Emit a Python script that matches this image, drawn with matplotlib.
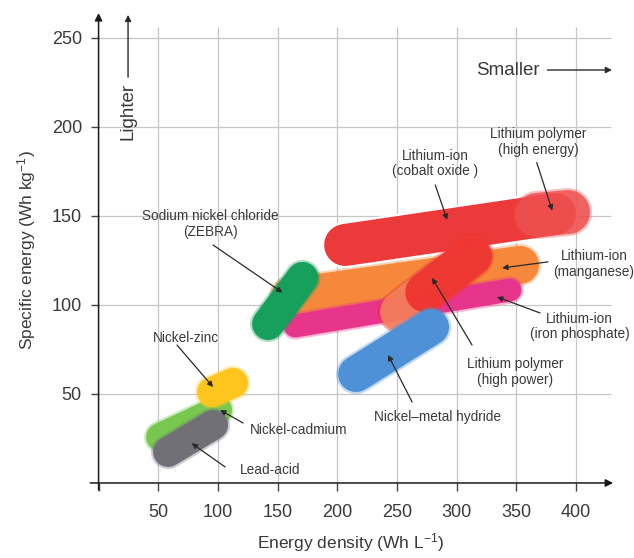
import numpy as np
import matplotlib
matplotlib.use("Agg")
import matplotlib.pyplot as plt

plt.rcParams['font.family'] = ['Liberation Sans', 'DejaVu Sans']
plt.rcParams['mathtext.fontset'] = 'custom'
plt.rcParams['mathtext.rm'] = 'Liberation Sans'
plt.rcParams['mathtext.it'] = 'Liberation Sans:italic'

# battery regions: centre-line ends (energy density Wh/L, specific energy Wh/kg)
names = ['Li-ion cobalt', 'Li polymer high energy', 'Li-ion manganese',
         'Li-ion iron phosphate', 'Li polymer high power', 'NiMH', 'ZEBRA',
         'NiCd', 'Lead-acid', 'NiZn']
x_start = [206.5, 367.3, 160.4, 164.6, 252.5, 215.7, 142.0, 51.5, 58.2, 95.1]
x_end = [382.3, 393.2, 353.0, 344.6, 312.8, 278.5, 170.8, 100.1, 95.9, 112.6]
y_start = [133.7, 150.6, 104.5, 88.2, 96.1, 61.2, 89.3, 25.8, 17.4, 51.1]
y_end = [151.1, 152.2, 122.5, 108.4, 127.5, 87.6, 115.2, 41.0, 32.6, 56.2]
widths_px = [42, 44, 38, 23, 40, 36, 32, 28, 30, 30]
colors = ['#ec3a3a', '#ef5050', '#f5883a', '#e8358c', '#ee2c2c', '#4e91d6',
          '#17a05c', '#78c850', '#707076', '#ffc41e']
orders = [3, 5, 1, 2, 4, 6, 7, 3, 5, 4]

# labels: text centre, arrow tail, arrow tip
labels = ['Sodium nickel chloride\n(ZEBRA)', 'Lithium-ion\n(cobalt oxide )',
          'Lithium polymer\n(high energy)', 'Lithium-ion\n(manganese)',
          'Lithium-ion\n(iron phosphate)', 'Lithium polymer\n(high power)',
          'Nickel\u2013metal hydride', 'Nickel-zinc', 'Nickel-cadmium',
          'Lead-acid']
text_x = [93.4, 282.0, 368.0, 415.0, 403.0, 348.8, 283.5, 73.3, 167.9, 144.0]
text_y = [145.5, 179.5, 191.6, 123.0, 88.0, 62.4, 37.0, 81.5, 29.8, 7.3]
tail_x = [95.9, 282.0, 367.0, 376.4, 369.8, 312.8, 262.6, 65.7, 121.0, 106.0]
tail_y = [133.7, 167.4, 180.0, 124.2, 95.5, 77.5, 45.5, 77.5, 33.7, 9.0]
tip_x = [154.0, 292.0, 380.0, 338.0, 333.7, 279.3, 242.5, 95.9, 101.8, 78.0]
tip_y = [107.0, 147.8, 153.0, 120.8, 104.5, 115.2, 71.9, 53.9, 41.0, 22.3]

x_ticks = [50, 100, 150, 200, 250, 300, 350, 400]
y_ticks = [50, 100, 150, 200, 250]

fig = plt.figure(figsize=(6.34, 5.58), dpi=100)
ax = fig.add_axes([0.1404, 0.1185, 0.8286, 0.8613])
ax.set_xlim(-8, 432)
ax.set_ylim(-5, 265)
for s in ax.spines.values():
    s.set_visible(False)
ax.spines['left'].set_position(('data', 0))
ax.spines['bottom'].set_position(('data', 0))

ax.vlines(x_ticks, 0, 256, color='#c6c6c6', lw=0.9, zorder=0)
ax.hlines(y_ticks, 0, 429, color='#c6c6c6', lw=0.9, zorder=0)

px2pt = 72 / 100
for i in range(len(names)):
    xs = [x_start[i], x_end[i]]
    ys = [y_start[i], y_end[i]]
    lw = widths_px[i] * px2pt
    z = orders[i]
    if names[i] == 'Li-ion cobalt':
        # white rim gives the light streak over the orange band
        ax.plot(xs, ys, lw=lw + 3, color='white', solid_capstyle='round', zorder=z)
    else:
        ax.plot(xs, ys, lw=lw + 3, color=colors[i], alpha=0.35,
                solid_capstyle='round', zorder=z)
    if names[i] == 'Li polymer high power':
        # salmon lower end fading to red
        ax.plot(xs, ys, lw=lw, color='#f47f5c', alpha=0.9,
                solid_capstyle='round', zorder=z)
        f = 0.35
        xm = x_start[i] + f * (x_end[i] - x_start[i])
        ym = y_start[i] + f * (y_end[i] - y_start[i])
        ax.plot([xm, x_end[i]], [ym, y_end[i]], lw=lw, color=colors[i],
                alpha=0.85, solid_capstyle='round', zorder=z)
    elif names[i] == 'Li polymer high energy':
        ax.plot(xs, ys, lw=lw, color=colors[i], alpha=0.85,
                solid_capstyle='round', zorder=z)
    else:
        ax.plot(xs, ys, lw=lw, color=colors[i], solid_capstyle='round', zorder=z)

for i in range(len(labels)):
    ax.annotate('', xy=(tip_x[i], tip_y[i]), xytext=(tail_x[i], tail_y[i]),
                arrowprops=dict(arrowstyle='-|>', color='#2a2a2a', lw=0.9,
                                mutation_scale=8, shrinkA=0, shrinkB=0),
                zorder=10)
    ax.text(text_x[i], text_y[i], labels[i], ha='center', va='center',
            fontsize=9.8, color='#3a3a3a', linespacing=1.15, zorder=10)

# axes with arrow heads
axis_kw = dict(arrowstyle='-|>', color='#1a1a1a', lw=1.1, mutation_scale=11,
               shrinkA=0, shrinkB=0)
ax.annotate('', xy=(0, 264), xytext=(0, -4), arrowprops=axis_kw)
ax.annotate('', xy=(431, 0), xytext=(-7, 0), arrowprops=axis_kw)

# direction hints
ax.annotate('', xy=(24.7, 263), xytext=(24.7, 228), arrowprops=dict(
    arrowstyle='-|>', color='#2a2a2a', lw=1.0, mutation_scale=9, shrinkA=0, shrinkB=0))
ax.text(24.7, 209, 'Lighter', rotation=90, ha='center', va='center',
        fontsize=13.5, color='#3a3a3a')
ax.annotate('', xy=(430, 232), xytext=(376, 232), arrowprops=dict(
    arrowstyle='-|>', color='#2a2a2a', lw=1.0, mutation_scale=9, shrinkA=0, shrinkB=0))
ax.text(343, 232, 'Smaller', ha='center', va='center', fontsize=13.5,
        color='#3a3a3a')

ax.set_xticks([0] + x_ticks)
ax.set_xticklabels([''] + [str(v) for v in x_ticks])
ax.set_yticks(y_ticks)
ax.set_yticklabels([str(v) for v in y_ticks])
ax.tick_params(axis='x', direction='out', length=6, width=1, color='#444444',
               pad=9, labelsize=13, labelcolor='#3a3a3a')
ax.tick_params(axis='y', direction='out', length=6, width=1, color='#444444',
               pad=6, labelsize=13, labelcolor='#3a3a3a')

fig.text(351 / 634, 1 - 543 / 558, 'Energy density (Wh L$^{-1}$)', ha='center',
         va='center', fontsize=12.5, color='#3a3a3a')
fig.text(27 / 634, 1 - 250 / 558, 'Specific energy (Wh kg$^{-1}$)', ha='center',
         va='center', rotation=90, fontsize=12.5, color='#3a3a3a')

fig.savefig('out.png', dpi=100)
